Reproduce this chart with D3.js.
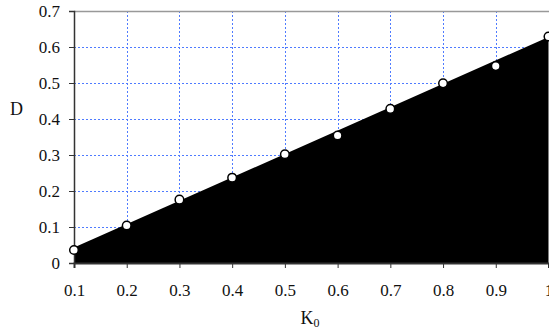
<!DOCTYPE html>
<html><head><meta charset="utf-8">
<script src="https://cdn.jsdelivr.net/npm/d3@7"></script>
<style>body{margin:0;background:#fff;} svg{display:block;}</style>
</head><body>
<script>
const kValues = [0.1,0.2,0.3,0.4,0.5,0.6,0.7,0.8,0.9,1.0];
const dValues = [0.036,0.104,0.176,0.237,0.302,0.354,0.428,0.499,0.547,0.629];
const fitK = [0.1, 1.0];
const fitD = [0.043, 0.628];
const xTicks = [0.1,0.2,0.3,0.4,0.5,0.6,0.7,0.8,0.9,1];
const yTicks = [0,0.1,0.2,0.3,0.4,0.5,0.6,0.7];

const FONT="Liberation Serif, Times New Roman, serif";
const W=549,H=331;
const svg=d3.select("body").append("svg").attr("width",W).attr("height",H);
const x=d3.scaleLinear().domain([0.1,1.0]).range([74,548.5]);
const y=d3.scaleLinear().domain([0,0.7]).range([263,11]);

const gridColor="#4f7bff";
const g=svg.append("g");
g.selectAll("line.gy").data(yTicks.filter(v=>v>0&&v<0.7)).join("line")
 .attr("x1",74).attr("x2",W).attr("y1",d=>Math.round(y(d))+0.5).attr("y2",d=>Math.round(y(d))+0.5)
 .attr("stroke",gridColor).attr("stroke-width",1).attr("stroke-dasharray","2,2");
g.selectAll("line.gx").data(xTicks.filter(v=>v>0.1&&v<1)).join("line")
 .attr("x1",d=>Math.round(x(d))+0.5).attr("x2",d=>Math.round(x(d))+0.5).attr("y1",11).attr("y2",263)
 .attr("stroke",gridColor).attr("stroke-width",1).attr("stroke-dasharray","2,2");

const fit=fitK.map((k,i)=>({k,d:fitD[i]}));
svg.append("path").datum(fit)
 .attr("d",d3.area().x(d=>x(d.k)).y0(y(0)).y1(d=>y(d.d)))
 .attr("fill","#000");

svg.append("line").attr("x1",74).attr("x2",W).attr("y1",11.5).attr("y2",11.5).attr("stroke","#999").attr("stroke-width",1.5);

const ya=svg.append("g").attr("transform","translate(74,0)")
 .call(d3.axisLeft(y).tickValues(yTicks).tickSize(5).tickPadding(9).tickFormat(d=>d===0?"0":d3.format(".1f")(d)));
const xa=svg.append("g").attr("transform","translate(0,263)")
 .call(d3.axisBottom(x).tickValues(xTicks).tickSize(5).tickPadding(16).tickFormat(d=>d===1?"1":d3.format(".1f")(d)));
[ya,xa].forEach(a=>{
  a.attr("font-family",FONT).attr("font-size",17);
  a.select(".domain").attr("stroke","#333").attr("stroke-width",1.5);
  a.selectAll(".tick line").attr("stroke","#333");
  a.selectAll("text").attr("fill","#111");
});
xa.select(".domain").attr("stroke","#333").attr("stroke-width",2);

svg.selectAll("circle.pt").data(kValues.map((k,i)=>({k,d:dValues[i]}))).join("circle")
 .attr("cx",d=>x(d.k)).attr("cy",d=>y(d.d)).attr("r",4.3)
 .attr("fill","#fff").attr("stroke","#000").attr("stroke-width",1.5);

svg.append("text").attr("x",16.5).attr("y",115).attr("text-anchor","middle").attr("font-family",FONT).attr("font-size",18).attr("fill","#111").text("D");
const kt=svg.append("text").attr("x",310).attr("y",324).attr("text-anchor","middle").attr("font-family",FONT).attr("font-size",18).attr("fill","#111");
kt.append("tspan").text("K");
kt.append("tspan").attr("font-size",12).attr("dy",3).text("0");
</script>
</body></html>
